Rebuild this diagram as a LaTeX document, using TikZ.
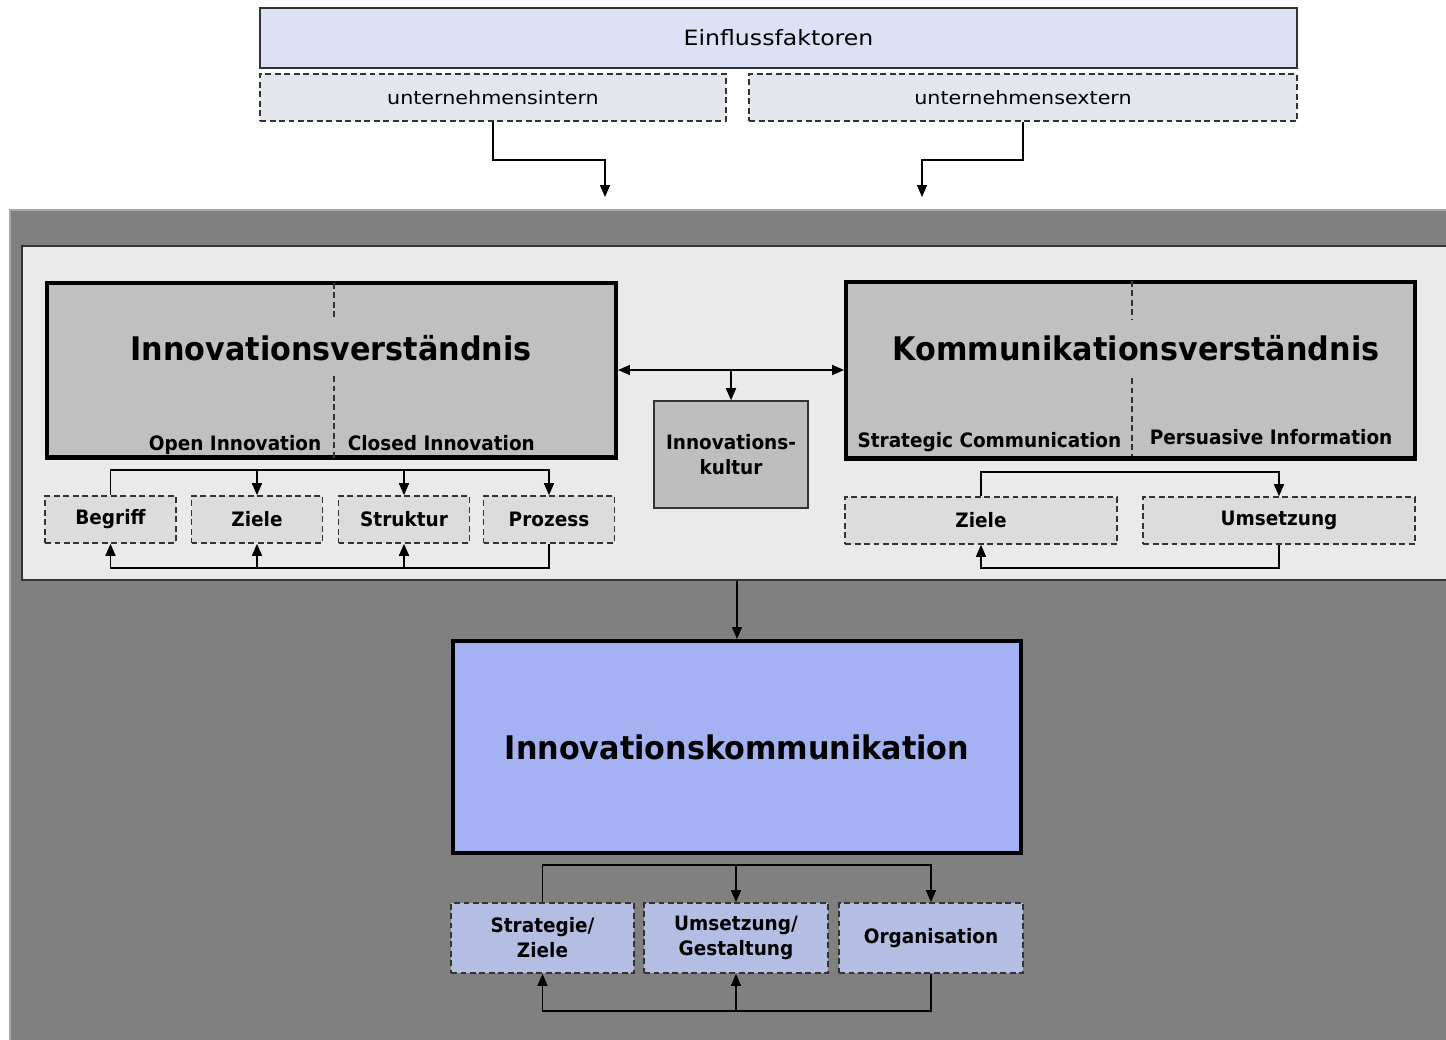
\documentclass[tikz,border=0pt]{standalone}
\usepackage{fontspec}
\setmainfont{DejaVu Sans}
\newfontfamily\breitfont[FakeStretch=1.12]{DejaVu Sans}
\newfontfamily\fettfont[FakeStretch=0.93]{DejaVu Sans}
\usetikzlibrary{arrows.meta}
\definecolor{hellblau}{HTML}{DDE1F5}
\definecolor{blassgrau}{HTML}{E4E6EE}
\definecolor{dunkelgrau}{HTML}{808080}
\definecolor{panelgrau}{HTML}{EAEAEA}
\definecolor{boxgrau}{HTML}{C0C0C0}
\definecolor{feldgrau}{HTML}{DCDCDC}
\definecolor{kulturgrau}{HTML}{BEBEBE}
\definecolor{kernblau}{HTML}{A4B2F4}
\definecolor{feldblau}{HTML}{B4BDE2}
\definecolor{linie}{HTML}{333333}
\begin{document}
\begin{tikzpicture}[x=0.02cm,y=-0.02cm,>={Triangle[length=2.4mm,width=2mm]},line width=0.9pt,
    rahmen/.style={draw=linie,line width=0.9pt,inner sep=0pt},
    schrift/.style={font=\fettfont\bfseries\fontsize{11.3}{14.3}\selectfont,inner sep=0pt,align=center},
    strichbox/.style={rahmen,schrift,dash pattern=on 3.4pt off 2pt},
    dickbox/.style={draw=black,line width=2.3pt,inner sep=0pt},
    titel/.style={font=\fettfont\bfseries\fontsize{18.5}{22}\selectfont,inner sep=0pt},
    teiler/.style={draw=linie,line width=0.6pt,dash pattern=on 3.4pt off 2pt}]
                \useasboundingbox(0,0)rectangle(1446,1039);
                \filldraw[fill=dunkelgrau,draw=gray!70,line width=0.6pt](10,210)rectangle(1460,1050);
                \node[rahmen,fill=hellblau,minimum width=20.74cm,minimum height=1.2cm,font=\breitfont\fontsize{12}{14}\selectfont](einfluss)at(778.5,38){Einflussfaktoren};
                \node[strichbox,fill=blassgrau,minimum width=9.32cm,minimum height=0.94cm,font=\breitfont\fontsize{10.5}{13}\selectfont](intern)at(493,97.5){unternehmensintern};
                \node[strichbox,fill=blassgrau,minimum width=10.96cm,minimum height=0.94cm,font=\breitfont\fontsize{10.5}{13}\selectfont](extern)at(1023,97.5){unternehmensextern};
                \coordinate(inpfeil)at(605,197);
                \coordinate(expfeil)at(922,197);
                \coordinate(knick)at(0,160);
                \draw[->](intern.south)|-(knick-|inpfeil)--(inpfeil);
                \draw[->](extern.south)|-(knick-|expfeil)--(expfeil);
                \node[rahmen,fill=panelgrau,minimum width=28.6cm,minimum height=6.68cm](panel)at(737,413){};
                \node[dickbox,fill=boxgrau,minimum width=11.38cm,minimum height=3.5cm](iv)at(331.5,370){};
                \draw[teiler](334,283)--(334,320)(334,376)--(334,458);
                \node[titel](ivtitel)at(331,348){Innovationsverständnis};
                \node[schrift,anchor=base east](offen)at(322,450){Open Innovation};
                \node[schrift,anchor=base west](geschlossen)at(347,450.5){Closed Innovation};
                \node[strichbox,fill=feldgrau,minimum width=2.62cm,minimum height=0.94cm](begriff)at(110.5,519.5){Begriff};
                \node[strichbox,fill=feldgrau,minimum width=2.62cm,minimum height=0.94cm](ziele)at(257,519.5){Ziele};
                \node[strichbox,fill=feldgrau,minimum width=2.62cm,minimum height=0.94cm](struktur)at(404,519.5){Struktur};
                \node[strichbox,fill=feldgrau,minimum width=2.62cm,minimum height=0.94cm](prozess)at(549,519.5){Prozess};
                \coordinate(ivoben)at(0,470);
                \coordinate(ivunten)at(0,568);
                \draw[->](begriff.north)|-(ivoben-|prozess.north)--(prozess.north);
                \draw[->](ziele.north|-ivoben)--(ziele.north);
                \draw[->](struktur.north|-ivoben)--(struktur.north);
                \draw[->](prozess.south)|-(ivunten-|begriff.south)--(begriff.south);
                \draw[->](ziele.south|-ivunten)--(ziele.south);
                \draw[->](struktur.south|-ivunten)--(struktur.south);
                \node[rahmen,schrift,fill=kulturgrau,minimum width=3.08cm,minimum height=2.14cm](kultur)at(731,454.5){Innovations-\\kultur};
                \node[dickbox,fill=boxgrau,minimum width=11.38cm,minimum height=3.54cm](kv)at(1130.5,370){};
                \draw[teiler](1132,281)--(1132,320)(1132,378)--(1132,456);
                \node[titel](kvtitel)at(1136,348){Kommunikationsverständnis};
                \node[schrift,anchor=base east](strategic)at(1122,447.5){Strategic Communication};
                \node[schrift,anchor=base west](persuasive)at(1149,444.5){Persuasive Information};
                \draw[<->](iv.east)--(kv.west);
                \draw[->](kultur.north|-iv.east)--(kultur.north);
                \node[strichbox,fill=feldgrau,minimum width=5.44cm,minimum height=0.94cm](kziele)at(981,520.5){Ziele};
                \node[strichbox,fill=feldgrau,minimum width=5.44cm,minimum height=0.94cm](umsetzung)at(1279,520.5){Umsetzung};
                \coordinate(kvoben)at(0,472);
                \coordinate(kvunten)at(0,568);
                \draw[->](kziele.north)|-(kvoben-|umsetzung.north)--(umsetzung.north);
                \draw[->](umsetzung.south)|-(kvunten-|kziele.south)--(kziele.south);
                \node[dickbox,titel,fill=kernblau,minimum width=11.38cm,minimum height=4.24cm](ikom)at(737,747){Innovationskommunikation};
                \draw[->](panel.south)--(ikom.north);
                \node[strichbox,fill=feldblau,minimum width=3.66cm,minimum height=1.4cm](strategie)at(542.5,938){Strategie/\\Ziele};
                \node[strichbox,fill=feldblau,minimum width=3.68cm,minimum height=1.4cm](umgestalt)at(736,938){Umsetzung/\\Gestaltung};
                \node[strichbox,fill=feldblau,minimum width=3.68cm,minimum height=1.4cm](organisation)at(931,938){Organisation};
                \coordinate(ikoben)at(0,865);
                \coordinate(ikunten)at(0,1011);
                \draw[->](strategie.north)|-(ikoben-|organisation.north)--(organisation.north);
                \draw[->](umgestalt.north|-ikoben)--(umgestalt.north);
                \draw[->](organisation.south)|-(ikunten-|strategie.south)--(strategie.south);
                \draw[->](umgestalt.south|-ikunten)--(umgestalt.south);
\end{tikzpicture}
\end{document}
